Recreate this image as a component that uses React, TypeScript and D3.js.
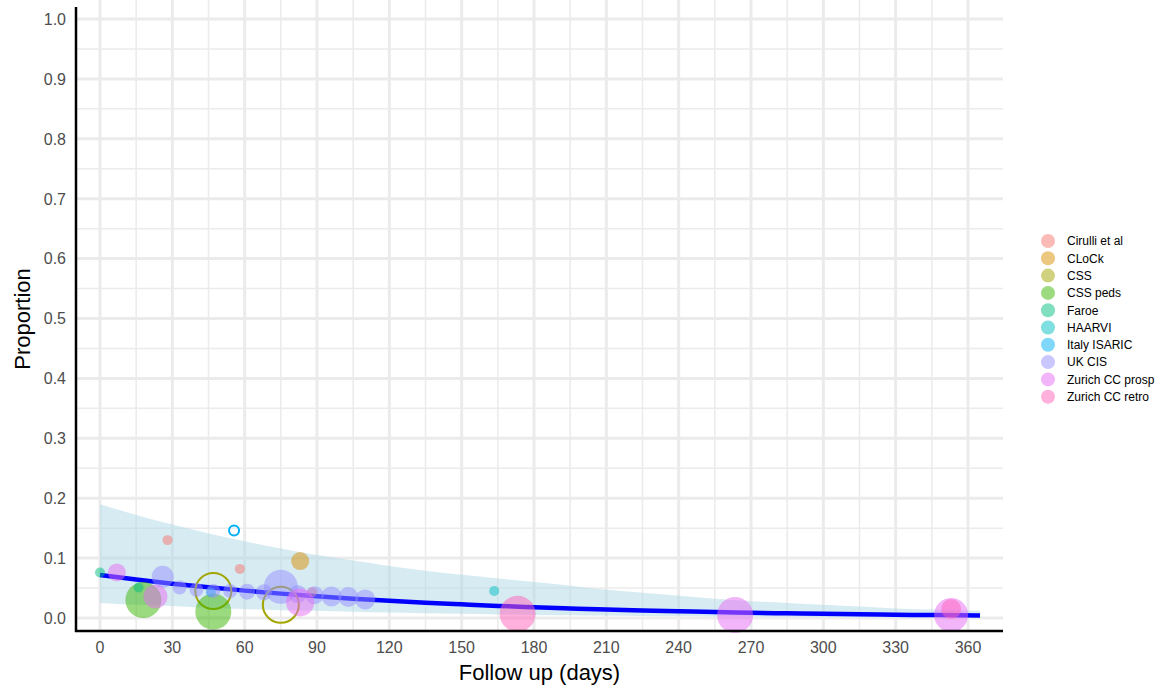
import React from "react";
import * as d3 from "d3";

// ---- data ----
const studies = [
  "Cirulli et al",
  "CLoCk",
  "CSS",
  "CSS peds",
  "Faroe",
  "HAARVI",
  "Italy ISARIC",
  "UK CIS",
  "Zurich CC prosp",
  "Zurich CC retro",
];
const studyColors = [
  "#F8766D", "#D89000", "#A3A500", "#39B600", "#00BF7D",
  "#00BFC4", "#00B0F6", "#9590FF", "#E76BF3", "#FF62BC",
];

// follow-up days, proportions, weights (sample size proxy), hollow flags
const cirulliDays = [28, 58, 88];
const cirulliProp = [0.13, 0.082, 0.043];
const cirulliW = [77, 77, 77];

const clockDays = [83];
const clockProp = [0.095];
const clockW = [250];

const cssDays = [47, 75];
const cssProp = [0.045, 0.022];
const cssW = [1000, 1000];

const cssPedsDays = [18, 47];
const cssPedsProp = [0.03, 0.0105];
const cssPedsW = [1000, 1000];

const faroeDays = [0, 16];
const faroeProp = [0.076, 0.051];
const faroeW = [77, 77];

const haarviDays = [163.5];
const haarviProp = [0.045];
const haarviW = [77];

const italyDays = [55.6, 46];
const italyProp = [0.146, 0.043];
const italyW = [77, 77];

const ukcisDays = [26, 33, 40, 47, 54, 61, 68, 75, 82, 89, 96, 103, 110];
const ukcisProp = [0.069, 0.051, 0.047, 0.045, 0.045, 0.044, 0.043, 0.052, 0.04, 0.038, 0.036, 0.035, 0.031];
const ukcisW = [373, 151, 151, 151, 151, 198, 198, 892, 250, 250, 309, 309, 309];

const zprospDays = [7, 23, 83, 263.4, 353];
const zprospProp = [0.076, 0.036, 0.026, 0.005, 0.005];
const zprospW = [250, 444, 605, 1000, 892];

const zretroDays = [173.2, 353];
const zretroProp = [0.007, 0.015];
const zretroW = [1000, 309];

const hollowStudies = ["CSS"];
const hollowPoints = [{ study: "Italy ISARIC", index: 0 }];

// fitted curve + confidence band
const fitDays = [0, 15, 30, 45, 60, 75, 90, 105, 120, 135, 150, 165, 180, 195, 210, 225, 240, 255, 270, 285, 300, 315, 330, 345, 365];
const fitProp = [0.0718, 0.0642, 0.0573, 0.0512, 0.0457, 0.0407, 0.0363, 0.0323, 0.0288, 0.0256, 0.0228, 0.0202, 0.018, 0.016, 0.0142, 0.0126, 0.0112, 0.0099, 0.0088, 0.0078, 0.007, 0.0062, 0.0055, 0.0049, 0.0042];
const fitUpper = [0.19, 0.172, 0.156, 0.141, 0.128, 0.116, 0.105, 0.096, 0.087, 0.079, 0.072, 0.066, 0.06, 0.054, 0.047, 0.042, 0.037, 0.032, 0.028, 0.025, 0.022, 0.019, 0.016, 0.014, 0.012];
const fitLower = [0.025, 0.022, 0.02, 0.017, 0.015, 0.013, 0.012, 0.0105, 0.009, 0.008, 0.007, 0.006, 0.005, 0.0045, 0.004, 0.0035, 0.003, 0.0027, 0.0024, 0.002, 0.0018, 0.0016, 0.0014, 0.0012, 0.001];

const xTicks = [0, 30, 60, 90, 120, 150, 180, 210, 240, 270, 300, 330, 360];
const yTicks = [0, 0.1, 0.2, 0.3, 0.4, 0.5, 0.6, 0.7, 0.8, 0.9, 1.0];
const xMinor = [15, 45, 75, 105, 135, 165, 195, 225, 255, 285, 315, 345];
const yMinor = [0.05, 0.15, 0.25, 0.35, 0.45, 0.55, 0.65, 0.75, 0.85, 0.95];

const seriesDays = [cirulliDays, clockDays, cssDays, cssPedsDays, faroeDays, haarviDays, italyDays, ukcisDays, zprospDays, zretroDays];
const seriesProp = [cirulliProp, clockProp, cssProp, cssPedsProp, faroeProp, haarviProp, italyProp, ukcisProp, zprospProp, zretroProp];
const seriesW = [cirulliW, clockW, cssW, cssPedsW, faroeW, haarviW, italyW, ukcisW, zprospW, zretroW];

export default function App() {
  const W = 1162, H = 689;
  const panel = { left: 76, right: 1003, top: 7, bottom: 631 };
  const x = d3.scaleLinear().domain([0, 360]).range([100, 968]);
  const y = d3.scaleLinear().domain([0, 1]).range([618, 19]);
  const r = d3.scaleSqrt().domain([0, 1000]).range([0, 18]);

  const fit = fitDays.map((d, i) => ({ d, p: fitProp[i], lo: fitLower[i], hi: fitUpper[i] }));
  const area = d3.area<any>().x((v) => x(v.d)).y0((v) => y(v.lo)).y1((v) => y(v.hi)).curve(d3.curveMonotoneX);
  const line = d3.line<any>().x((v) => x(v.d)).y((v) => y(v.p)).curve(d3.curveMonotoneX);

  const points: any[] = [];
  studies.forEach((s, si) => {
    seriesDays[si].forEach((d, i) => {
      const hollow = hollowStudies.includes(s) || hollowPoints.some((h) => h.study === s && h.index === i);
      points.push({ s, si, d, p: seriesProp[si][i], w: seriesW[si][i], hollow });
    });
  });

  const font = "'Liberation Sans', Arial, sans-serif";
  const legendY0 = 241, legendStep = 17.3;

  return (
    <svg width={W} height={H} style={{ position: "absolute", left: 0, top: 0, background: "#fff" }} fontFamily={font}>
      <rect x={0} y={0} width={W} height={H} fill="#fff" />
      {/* minor grid */}
      {xMinor.map((t) => (
        <line key={"xm" + t} x1={x(t)} x2={x(t)} y1={0} y2={panel.bottom} stroke="#EBEBEB" strokeWidth={1.5} />
      ))}
      {yMinor.map((t) => (
        <line key={"ym" + t} x1={panel.left} x2={panel.right} y1={y(t)} y2={y(t)} stroke="#EBEBEB" strokeWidth={1.5} />
      ))}
      {/* major grid */}
      {xTicks.map((t) => (
        <line key={"xM" + t} x1={x(t)} x2={x(t)} y1={0} y2={panel.bottom} stroke="#EBEBEB" strokeWidth={3} />
      ))}
      {yTicks.map((t) => (
        <line key={"yM" + t} x1={panel.left} x2={panel.right} y1={y(t)} y2={y(t)} stroke="#EBEBEB" strokeWidth={3} />
      ))}

      {/* ribbon */}
      <path d={area(fit) || ""} fill="#ADD8E6" fillOpacity={0.5} />
      {/* fitted line */}
      <path d={line(fit) || ""} fill="none" stroke="#0000FF" strokeWidth={4.5} />

      {/* points */}
      {points.map((pt, i) =>
        pt.hollow ? (
          <circle key={i} cx={x(pt.d)} cy={y(pt.p)} r={r(pt.w)} fill="none" stroke={studyColors[pt.si]} strokeWidth={2} />
        ) : (
          <circle key={i} cx={x(pt.d)} cy={y(pt.p)} r={r(pt.w)} fill={studyColors[pt.si]} fillOpacity={0.5} />
        )
      )}

      {/* axes */}
      <line x1={panel.left} x2={panel.left} y1={panel.top} y2={panel.bottom + 1} stroke="#000" strokeWidth={2.5} />
      <line x1={panel.left - 1} x2={panel.right} y1={panel.bottom} y2={panel.bottom} stroke="#000" strokeWidth={2.5} />

      {xTicks.map((t) => (
        <text key={"xt" + t} x={x(t)} y={653} textAnchor="middle" fontSize={16} fill="#4D4D4D">
          {t}
        </text>
      ))}
      {yTicks.map((t) => (
        <text key={"yt" + t} x={66} y={y(t) + 5.8} textAnchor="end" fontSize={16} fill="#4D4D4D">
          {t.toFixed(1)}
        </text>
      ))}

      <text x={(panel.left + panel.right) / 2} y={680} textAnchor="middle" fontSize={22} fill="#000">
        Follow up (days)
      </text>
      <text transform={`translate(30, ${(panel.top + panel.bottom) / 2}) rotate(-90)`} textAnchor="middle" fontSize={22} fill="#000">
        Proportion
      </text>

      {/* legend */}
      {studies.map((s, i) => (
        <g key={"lg" + s} transform={`translate(0, ${legendY0 + i * legendStep})`}>
          <circle cx={1048} cy={0} r={7} fill={studyColors[i]} fillOpacity={0.5} />
          <text x={1067} y={4.3} fontSize={12} fill="#000">
            {s}
          </text>
        </g>
      ))}
    </svg>
  );
}
